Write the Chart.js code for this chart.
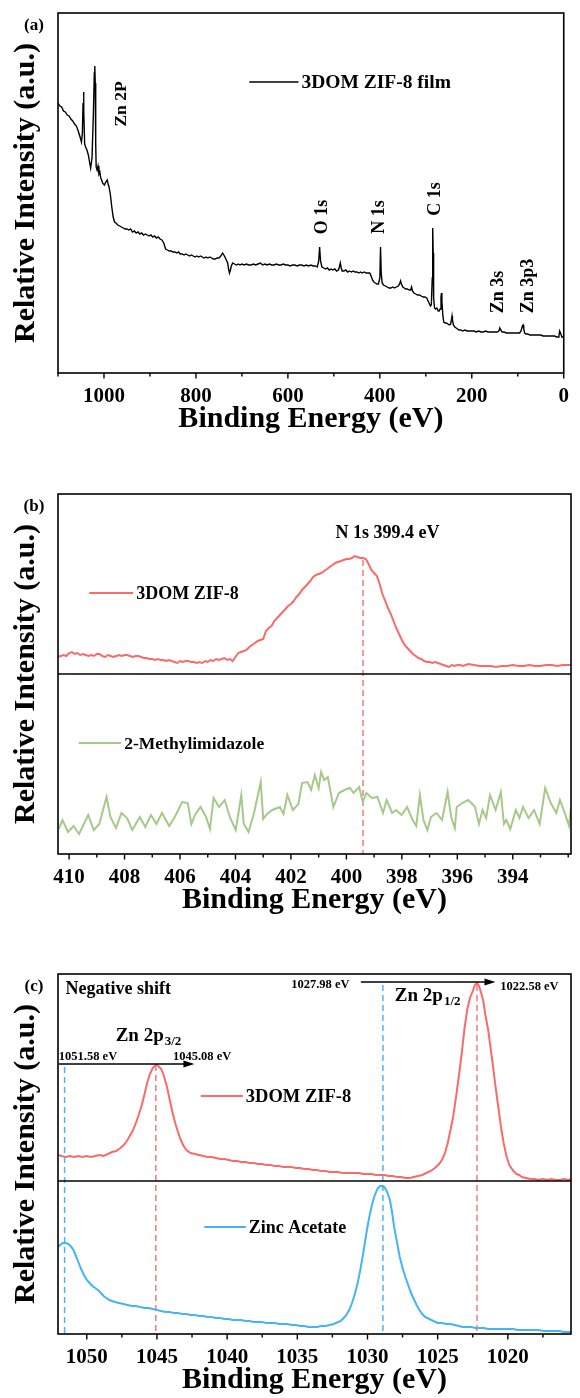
<!DOCTYPE html>
<html>
<head>
<meta charset="utf-8">
<script src="https://cdn.jsdelivr.net/npm/chart.js@4.4.1/dist/chart.umd.min.js"></script>
<style>
  html, body { margin: 0; padding: 0; background: #fff; width: 580px; height: 1398px; overflow: hidden; }
  .panel { position: absolute; left: 0; }
</style>
</head>
<body>
<div class="panel" style="top:0"><canvas id="panelA" width="580" height="437"></canvas></div>
<div class="panel" style="top:481px"><canvas id="panelB" width="580" height="437"></canvas></div>
<div class="panel" style="top:961px"><canvas id="panelC" width="580" height="437"></canvas></div>
<script>
const FONT = '"Liberation Serif", "Times New Roman", Times, serif';

// ---- (a) XPS survey of the 3DOM ZIF-8 film ----
const surveyEnergy = [1100,1096,1092,1088,1084,1080,1076,1072,1068,1064,1060,1056,1052,1049,1047,1045.5,1044.5,1043.5,1042,1040,1037,1034,1031,1029,1026,1023,1021,1020,1019,1018,1017,1015,1013,1011,1009,1007,1005,1003,1001,999,996,993,991,989,986,983,980,977,974,970,966,962,958,954,950,946,942,938,934,930,926,922,918,914,910,906,902,898,894,890,886,882,878,874,870,866,862,858,854,850,846,842,838,834,830,826,822,818,814,810,806,802,798,794,790,786,782,778,774,770,766,762,758,754,750,746,742,738,734,731,729,727,725,723,720,716,712,708,704,700,695,690,685,680,675,670,665,660,655,650,645,640,635,630,625,620,615,610,605,600,595,590,585,580,575,570,565,560,555,550,545,540,536,533,531,529,526,522,518,514,510,506,502,498,494,490,488,486,484,482,478,474,470,466,462,458,454,450,446,442,438,434,430,426,422,419,416,413,410,406,403,400,398.5,397,395,392,388,384,380,376,372,368,364,360,357,355,353,350,347,344,340,336,333,331,329,326,322,318,314,310,306,302,298,295,292,290,288,286,285,284,283,281,279,276,273,271,269,267,266,265,263,261,258,255,252,249,246,244,243,242,240,237,234,231,228,224,220,215,210,205,200,195,190,185,180,175,170,165,160,155,150,145,141,139,137,134,130,125,120,115,110,105,100,96,93,90,88.5,87,85,82,78,74,70,65,60,55,50,45,40,35,30,25,20,15,12,10.5,9,7,4,2,0];
const surveyIntensity = [270,267,266,262,261,258,257,254,252,249,247,242,236,231,240,270,281,262,229,226,223,218,210,205,215,260,300,307,290,230,206,203,207,199,201,195,193,190,189,188,191,193,189,186,178,166,156,151,150,148,147,146,145,144,144,143,144,141,142,140,141,139,140,138,139,138,137,138,136,137,135,136,134,133,130,124,123,122,122,121,121,120,121,119,119,118,119,118,117,118,117,116,117,116,117,116,115,116,115,116,115,114,114,115,115,117,120,117,113,110,104,100,103,107,110,109,108,109,108,109,108,109,108,108,109,108,109,110,108,109,108,109,108,108,109,108,108,109,108,108,107,108,108,107,108,108,107,108,107,108,107,107,106,112,126,112,106,105,104,105,103,104,103,104,102,103,106,110,105,102,102,103,101,102,101,102,101,101,100,101,100,101,100,100,100,97,93,91,90,89,89,95,126,100,90,88,87,86,85,85,86,85,86,87,89,92,89,86,85,84,84,83,83,86,82,80,79,78,78,77,76,76,75,72,69,67,68,95,145,120,75,65,64,65,62,62,64,76,80,72,58,51,50,50,49,48,49,54,57,53,48,46,45,44,43,43,42,43,42,42,42,42,41,42,41,41,42,41,41,41,41,41,42,45,43,41,41,40,40,40,40,40,40,40,42,47,48,44,40,39,39,38,38,38,38,38,38,37,37,37,37,37,37,36,36,37,42,40,36,36,35,35];
const surveyTicks = [1000, 800, 600, 400, 200, 0];

// ---- (b) N 1s high-resolution spectra ----
const n1sEnergyZif = [410.4,410.3,410.2,410.1,410.0,409.9,409.8,409.7,409.6,409.5,409.4,409.3,409.2,409.1,409.0,408.9,408.8,408.7,408.6,408.5,408.4,408.3,408.2,408.1,408.0,407.9,407.8,407.7,407.6,407.5,407.4,407.3,407.2,407.1,407.0,406.9,406.8,406.7,406.6,406.5,406.4,406.3,406.2,406.1,406.0,405.9,405.8,405.7,405.6,405.5,405.4,405.3,405.2,405.1,405.0,404.9,404.8,404.7,404.6,404.5,404.4,404.3,404.2,404.1,404.0,403.9,403.8,403.7,403.6,403.5,403.4,403.3,403.2,403.1,403.0,402.9,402.8,402.7,402.6,402.5,402.4,402.3,402.2,402.1,402.0,401.9,401.8,401.7,401.6,401.5,401.4,401.3,401.2,401.1,401.0,400.9,400.8,400.7,400.6,400.5,400.4,400.3,400.2,400.1,400.0,399.9,399.8,399.7,399.6,399.5,399.4,399.3,399.2,399.1,399.0,398.9,398.8,398.7,398.6,398.5,398.4,398.3,398.2,398.1,398.0,397.9,397.8,397.7,397.6,397.5,397.4,397.3,397.2,397.1,397.0,396.9,396.8,396.7,396.6,396.5,396.4,396.3,396.2,396.1,396.0,395.9,395.8,395.6,395.4,395.2,395.0,394.8,394.6,394.4,394.2,394.0,393.8,393.6,393.4,393.2,393.0,392.8,392.6,392.4,392.2,392.0,391.9];
const n1sZif = [17,18,19,18,21,22,20,21,19,20,19,18,19,18,20,20,18,17,19,18,17,18,19,18,19,19,18,17,18,18,17,16,16,15,15,14,15,14,14,13,14,13,12,11,13,12,13,13,12,12,11,12,11,13,12,14,13,15,14,15,16,14,15,13,17,21,22,23,24,27,29,31,33,34,35,43,46,48,53,56,59,62,65,68,70,73,77,80,84,87,90,93,97,99,100,101,103,105,107,109,111,112,113,114,115,115,116,118,117,116,116,115,110,104,101,98,90,80,73,66,60,53,46,40,34,29,26,23,20,18,16,15,13,12,12,11,12,11,10,9,8,7,9,8,9,9,8,10,9,8,8,8,7,8,8,9,8,8,9,8,8,9,9,8,9,9,9];
const n1sEnergyHmim = [410.37,410.24,410.04,409.84,409.64,409.31,409.11,408.91,408.65,408.51,408.31,408.11,407.91,407.72,407.45,407.25,407.05,406.85,406.65,406.39,406.19,405.92,405.72,405.59,405.46,405.26,405.06,404.92,404.79,404.59,404.39,404.19,403.99,403.79,403.7,403.53,403.33,403.09,403.0,402.86,402.67,402.4,402.27,402.13,401.93,401.73,401.6,401.4,401.27,401.14,401.0,400.91,400.8,400.67,400.47,400.27,400.07,399.87,399.74,399.54,399.41,399.28,399.08,398.88,398.68,398.55,398.35,398.21,398.01,397.81,397.61,397.48,397.35,397.22,397.08,396.95,396.75,396.55,396.35,396.22,396.09,396.02,395.82,395.62,395.49,395.36,395.22,395.09,394.96,394.82,394.62,394.43,394.32,394.23,394.09,393.89,393.76,393.63,393.43,393.23,393.03,392.83,392.63,392.43,392.3,392.1,391.97,391.9];
const n1sHmim = [25,34,22,28,20,39,24,30,57,37,26,41,36,24,37,27,39,30,41,28,37,52,51,30,39,47,37,25,56,47,54,36,24,59,30,22,41,72,35,40,44,47,40,59,44,50,71,72,64,79,66,82,74,77,47,61,64,66,61,67,52,61,56,57,41,54,41,44,39,47,34,28,59,34,24,37,41,34,62,37,26,47,51,54,51,47,30,44,36,59,44,62,30,34,25,44,36,47,36,44,30,66,51,41,54,39,28,47];
const n1sTicks = [410, 408, 406, 404, 402, 400, 398, 396, 394];

// ---- (c) Zn 2p high-resolution spectra ----
const zn2pEnergyZif = [1052.05,1051.8,1051.5,1051.2,1050.9,1050.6,1050.3,1050.0,1049.7,1049.4,1049.1,1048.8,1048.5,1048.2,1047.9,1047.6,1047.3,1047.1,1046.9,1046.7,1046.5,1046.3,1046.1,1045.9,1045.7,1045.5,1045.3,1045.1,1045.0,1044.9,1044.7,1044.5,1044.3,1044.1,1043.9,1043.7,1043.5,1043.3,1043.1,1042.9,1042.6,1042.3,1042.0,1041.7,1041.4,1041.1,1040.8,1040.5,1040.2,1039.9,1039.6,1039.3,1039.0,1038.7,1038.4,1038.1,1037.8,1037.5,1037.2,1036.9,1036.6,1036.3,1036.0,1035.7,1035.4,1035.1,1034.8,1034.5,1034.2,1033.9,1033.6,1033.3,1033.0,1032.7,1032.4,1032.1,1031.8,1031.5,1031.2,1030.9,1030.6,1030.3,1030.0,1029.7,1029.4,1029.1,1028.8,1028.5,1028.2,1027.9,1027.6,1027.3,1027.0,1026.7,1026.4,1026.1,1025.8,1025.5,1025.2,1024.9,1024.7,1024.5,1024.3,1024.1,1023.9,1023.7,1023.5,1023.3,1023.1,1022.9,1022.7,1022.5,1022.35,1022.2,1022.05,1021.9,1021.75,1021.6,1021.4,1021.2,1021.05,1020.9,1020.75,1020.6,1020.5,1020.3,1020.1,1019.9,1019.6,1019.4,1019.2,1019.0,1018.7,1018.4,1018.1,1017.8,1017.5,1017.2,1016.9,1016.6,1016.3,1016.0,1015.7,1015.5];
const zn2pZif = [26,25,24,25,24,25,24,25,24,25,26,25,27,29,30,33,37,41,46,51,58,66,75,86,98,107,113,116,116,115,112,105,95,82,69,58,49,41,35,31,28,27,26,25,24,24,23,22,22,21,20,20,19,19,18,18,17,17,16,16,15,15,14,14,14,13,13,12,12,11,11,10,10,9,9,9,8,8,8,8,8,7,7,7,6,6,6,5,5,4,4,3,3,4,5,6,8,10,13,17,21,27,37,50,64,83,104,126,151,171,183,190,196,198,195,188,180,166,151,130,114,97,81,66,55,38,25,16,10,7,6,4,3,2,2,1,2,1,2,1,1,2,1,2];
const zn2pEnergyAc = [1052.05,1051.9,1051.7,1051.5,1051.3,1051.1,1050.95,1050.8,1050.6,1050.4,1050.2,1050.0,1049.8,1049.6,1049.4,1049.2,1049.0,1048.8,1048.6,1048.4,1048.2,1048.0,1047.7,1047.4,1047.1,1046.8,1046.5,1046.2,1045.9,1045.6,1045.3,1045.0,1044.7,1044.4,1044.1,1043.8,1043.5,1043.2,1042.9,1042.6,1042.3,1042.0,1041.7,1041.4,1041.1,1040.8,1040.5,1040.2,1039.9,1039.6,1039.3,1039.0,1038.7,1038.4,1038.1,1037.8,1037.5,1037.2,1036.9,1036.6,1036.3,1036.0,1035.7,1035.4,1035.1,1034.8,1034.5,1034.2,1033.9,1033.6,1033.3,1033.0,1032.7,1032.4,1032.1,1031.9,1031.7,1031.5,1031.3,1031.1,1030.9,1030.7,1030.5,1030.3,1030.1,1029.9,1029.7,1029.5,1029.3,1029.1,1028.95,1028.8,1028.6,1028.4,1028.25,1028.1,1027.9,1027.7,1027.5,1027.3,1027.1,1026.9,1026.7,1026.5,1026.3,1026.1,1025.9,1025.6,1025.3,1025.0,1024.7,1024.4,1024.1,1023.8,1023.5,1023.2,1022.9,1022.6,1022.3,1022.0,1021.7,1021.4,1021.1,1020.8,1020.5,1020.2,1019.9,1019.6,1019.3,1019.0,1018.7,1018.4,1018.1,1017.8,1017.5,1017.2,1016.9,1016.6,1016.3,1016.0,1015.7,1015.5];
const zn2pAc = [87,89,91,91,90,87,84,79,72,65,59,54,51,48,46,44,41,38,36,34,33,32,31,30,29,28,28,27,26,26,25,24,23,22,22,21,21,20,20,19,19,18,18,17,17,16,16,15,15,14,14,14,13,13,12,12,12,11,11,11,10,10,10,9,9,8,8,7,7,7,8,8,9,10,12,13,16,19,24,31,40,51,65,81,99,115,128,138,145,148,148,147,142,134,122,107,92,77,66,57,49,41,35,29,24,20,17,15,13,11,11,10,10,9,8,7,7,7,6,6,6,5,5,5,5,5,5,5,4,4,4,4,4,4,3,3,3,3,3,2,2,2];
const zn2pTicks = [1050, 1045, 1040, 1035, 1030, 1025, 1020];

const RED = '#F96B6B', GREEN = '#A6C98B', BLUE = '#45B3F6';
const RED_DASH = '#F47A7A', BLUE_DASH = '#4DB5F2';

// frame, divider, minor ticks, guide lines, arrows, legends and labels
const panelDecor = {
  id: 'panelDecor',
  beforeDatasetsDraw(chart, args, o) {
    const { ctx, scales: { x, y } } = chart;
    ctx.save();
    (o.guides || []).forEach(g => {
      const px = x.getPixelForValue(g.x);
      ctx.strokeStyle = g.color; ctx.lineWidth = 1.5; ctx.setLineDash([6, 4]);
      ctx.beginPath(); ctx.moveTo(px, y.getPixelForValue(g.from)); ctx.lineTo(px, y.getPixelForValue(0)); ctx.stroke();
    });
    ctx.restore();
  },
  afterDraw(chart, args, o) {
    const { ctx, chartArea: a, scales: { x, y } } = chart;
    ctx.save();
    ctx.setLineDash([]);
    ctx.strokeStyle = '#000'; ctx.lineWidth = 1.6;
    ctx.strokeRect(a.left, a.top, a.right - a.left, a.bottom - a.top);
    if (o.divider != null) {
      const py = y.getPixelForValue(o.divider);
      ctx.beginPath(); ctx.moveTo(a.left, py); ctx.lineTo(a.right, py); ctx.stroke();
    }
    // major and minor ticks on the energy axis
    ctx.lineWidth = 1.4;
    ctx.beginPath();
    const majors = x.ticks.map(t => t.value);
    majors.forEach(v => { const px = x.getPixelForValue(v); ctx.moveTo(px, a.bottom); ctx.lineTo(px, a.bottom + 5.5); });
    const lo = Math.min(x.min, x.max), hi = Math.max(x.min, x.max);
    for (let v = Math.ceil(lo / o.minorStep) * o.minorStep; v <= hi + 1e-9; v += o.minorStep) {
      if (majors.some(m => Math.abs(m - v) < 1e-6)) continue;
      const px = x.getPixelForValue(v);
      ctx.moveTo(px, a.bottom); ctx.lineTo(px, a.bottom + 3.5);
    }
    ctx.stroke();
    // arrows
    (o.arrows || []).forEach(r => {
      const x1 = x.getPixelForValue(r.x1), x2 = x.getPixelForValue(r.x2), py = y.getPixelForValue(r.y);
      ctx.strokeStyle = '#000'; ctx.fillStyle = '#000'; ctx.lineWidth = 1.3;
      ctx.beginPath(); ctx.moveTo(x1, py); ctx.lineTo(x2 - 8, py); ctx.stroke();
      ctx.beginPath(); ctx.moveTo(x2, py); ctx.lineTo(x2 - 11, py - 3.5); ctx.lineTo(x2 - 11, py + 3.5); ctx.closePath(); ctx.fill();
    });
    // legends
    (o.legends || []).forEach(l => {
      const ds = chart.data.datasets[l.dataset];
      const x1 = x.getPixelForValue(l.x1), x2 = x.getPixelForValue(l.x2), py = y.getPixelForValue(l.y);
      ctx.strokeStyle = ds.borderColor; ctx.lineWidth = l.width;
      ctx.beginPath(); ctx.moveTo(x1, py); ctx.lineTo(x2, py); ctx.stroke();
      ctx.fillStyle = '#000'; ctx.font = `bold ${l.size}px ${FONT}`;
      ctx.textAlign = 'left'; ctx.textBaseline = 'middle';
      ctx.fillText(ds.label, x2 + 3, py + 1);
    });
    // text labels anchored in data coordinates
    (o.texts || []).forEach(t => {
      ctx.save();
      ctx.translate(x.getPixelForValue(t.x), y.getPixelForValue(t.y));
      if (t.rot) ctx.rotate(t.rot * Math.PI / 180);
      ctx.fillStyle = '#000'; ctx.textBaseline = 'middle';
      ctx.font = `bold ${t.size}px ${FONT}`;
      if (t.sub) {
        ctx.textAlign = 'left';
        ctx.fillText(t.text, 0, 0);
        const w = ctx.measureText(t.text).width;
        ctx.font = `bold ${Math.round(t.size * 0.68)}px ${FONT}`;
        ctx.fillText(t.sub, w + 1, t.size * 0.32);
      } else {
        ctx.textAlign = t.align || 'center';
        ctx.fillText(t.text, 0, 0);
      }
      ctx.restore();
    });
    // panel letter
    ctx.fillStyle = '#000'; ctx.font = `bold 17px ${FONT}`;
    ctx.textAlign = 'center'; ctx.textBaseline = 'middle';
    ctx.fillText(o.tag, 34, 26);
    ctx.restore();
  }
};

function makePanel(id, cfg) {
  return new Chart(document.getElementById(id), {
    type: 'line',
    data: {
      datasets: cfg.series.map(s => ({
        label: s.label,
        data: s.energy.map((e, i) => ({ x: e, y: s.values[i] + (s.offset || 0) })),
        borderColor: s.color,
        borderWidth: s.width,
        pointRadius: 0,
        tension: 0,
        fill: false
      }))
    },
    options: {
      animation: false,
      responsive: false,
      events: [],
      layout: { padding: { top: 13, right: 9, left: 0, bottom: 0 } },
      plugins: { legend: { display: false }, tooltip: { enabled: false }, panelDecor: cfg.decor },
      scales: {
        x: {
          type: 'linear', reverse: true, min: cfg.xMin, max: cfg.xMax,
          afterBuildTicks: s => { s.ticks = cfg.ticks.map(v => ({ value: v })); },
          ticks: { autoSkip: false, maxRotation: 0, padding: 11, color: '#000',
                   font: { family: FONT, size: 21, weight: 'bold' }, callback: v => String(v) },
          grid: { display: false, drawTicks: false },
          border: { display: false },
          title: { display: true, text: 'Binding Energy (eV)', color: '#000', padding: 0,
                   font: { family: FONT, size: 30, weight: 'bold' } },
          afterFit: s => { s.height = 64; }
        },
        y: {
          min: 0, max: 360,
          ticks: { display: false },
          grid: { display: false, drawTicks: false },
          border: { display: false },
          title: { display: true, text: 'Relative Intensity (a.u.)', color: '#000', padding: { top: 8, bottom: 0 },
                   font: { family: FONT, size: 30, weight: 'bold' } },
          afterFit: s => { s.width = 58; }
        }
      }
    },
    plugins: [panelDecor]
  });
}

makePanel('panelA', {
  xMin: 0, xMax: 1100, ticks: surveyTicks,
  series: [{ label: '3DOM ZIF-8 film', energy: surveyEnergy, values: surveyIntensity, color: '#000', width: 1.4 }],
  decor: {
    tag: '(a)', minorStep: 100,
    legends: [{ dataset: 0, x1: 684, x2: 577, y: 291, width: 1.6, size: 19.5 }],
    texts: [
      { text: 'Zn 2P', x: 963, y: 269, size: 17.5, rot: -90 },
      { text: 'O 1s', x: 526, y: 156, size: 18, rot: -90 },
      { text: 'N 1s', x: 401, y: 156, size: 18, rot: -90 },
      { text: 'C 1s', x: 279, y: 174, size: 18, rot: -90 },
      { text: 'Zn 3s', x: 142, y: 81, size: 18, rot: -90 },
      { text: 'Zn 3p3', x: 77, y: 87, size: 18, rot: -90 }
    ]
  }
});

makePanel('panelB', {
  xMin: 391.9, xMax: 410.4, ticks: n1sTicks,
  series: [
    { label: '3DOM ZIF-8', energy: n1sEnergyZif, values: n1sZif, offset: 180, color: RED, width: 2 },
    { label: '2-Methylimidazole', energy: n1sEnergyHmim, values: n1sHmim, color: GREEN, width: 2 }
  ],
  decor: {
    tag: '(b)', minorStep: 1, divider: 180,
    guides: [{ x: 399.4, from: 294, color: RED_DASH }],
    legends: [
      { dataset: 0, x1: 409.27, x2: 407.69, y: 261, width: 2, size: 18 },
      { dataset: 1, x1: 409.65, x2: 408.12, y: 111, width: 2, size: 17.5 }
    ],
    texts: [{ text: 'N 1s 399.4 eV', x: 398.52, y: 321, size: 18 }]
  }
});

makePanel('panelC', {
  xMin: 1015.5, xMax: 1052.05, ticks: zn2pTicks,
  series: [
    { label: '3DOM ZIF-8', energy: zn2pEnergyZif, values: zn2pZif, offset: 153, color: RED, width: 2 },
    { label: 'Zinc Acetate', energy: zn2pEnergyAc, values: zn2pAc, color: BLUE, width: 2 }
  ],
  decor: {
    tag: '(c)', minorStep: 2.5, divider: 153,
    guides: [
      { x: 1051.58, from: 267, color: BLUE_DASH },
      { x: 1045.08, from: 269, color: RED_DASH },
      { x: 1028.9, from: 349, color: BLUE_DASH },
      { x: 1022.2, from: 349, color: RED_DASH }
    ],
    arrows: [
      { x1: 1052.0, x2: 1042.33, y: 270 },
      { x1: 1030.47, x2: 1020.88, y: 352 }
    ],
    legends: [
      { dataset: 0, x1: 1041.88, x2: 1038.88, y: 238, width: 2, size: 18.5 },
      { dataset: 1, x1: 1041.63, x2: 1038.67, y: 107, width: 2, size: 18 }
    ],
    texts: [
      { text: 'Negative shift', x: 1051.52, y: 345, size: 18, align: 'left' },
      { text: '1051.58 eV', x: 1049.91, y: 277, size: 12.5 },
      { text: '1045.08 eV', x: 1041.78, y: 277, size: 12.5 },
      { text: 'Zn 2p', sub: '3/2', x: 1047.94, y: 298, size: 19 },
      { text: '1027.98 eV', x: 1033.36, y: 349, size: 12.5 },
      { text: '1022.58 eV', x: 1018.46, y: 347, size: 12.5 },
      { text: 'Zn 2p', sub: '1/2', x: 1028.05, y: 338, size: 19 }
    ]
  }
});
</script>
</body>
</html>
